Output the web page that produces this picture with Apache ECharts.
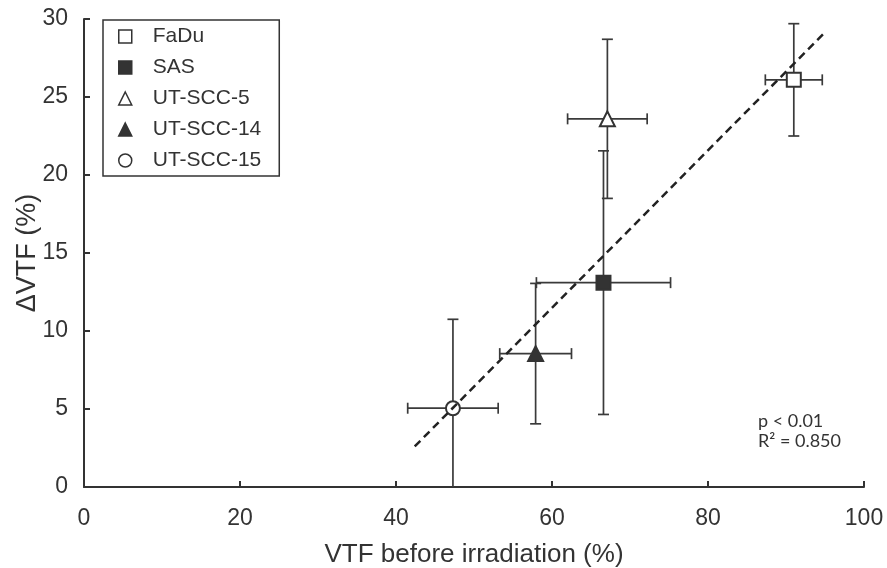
<!DOCTYPE html>
<html>
<head>
<meta charset="utf-8">
<script src="https://cdn.jsdelivr.net/npm/echarts/dist/echarts.min.js"></script>
<style>
html, body { margin: 0; padding: 0; background: #fff; }
#chart { width: 887px; height: 568px; }
</style>
</head>
<body>
<div id="chart"></div>
<script>
// cell lines and their values
var cellLines = ['FaDu', 'SAS', 'UT-SCC-5', 'UT-SCC-14', 'UT-SCC-15'];
var vtfBefore = [91.0, 66.6, 67.1, 57.9, 47.3];
var vtfBeforeErr = [3.65, 8.6, 5.1, 4.6, 5.8];
var deltaVtf = [26.1, 13.1, 23.6, 8.55, 5.05];
var deltaVtfErr = [3.6, 8.45, 5.1, 4.5, 5.7];
// regression line ends
var fitLine = [[42.4, 2.6], [95.1, 29.2]];
var xRange = [0, 100, 20];
var yRange = [0, 30, 5];
var statText = ['p < 0.01', 'R\u00b2 = 0.850'];

var ink = '#333';
var symbols = ['rect', 'rect', 'triangle', 'triangle', 'circle'];
var fills = ['#fff', ink, '#fff', ink, '#fff'];
var font = 'Liberation Sans';

var myChart = echarts.init(document.getElementById('chart'));

var errData = cellLines.map(function (n, i) {
	return [vtfBefore[i], deltaVtf[i], vtfBeforeErr[i], deltaVtfErr[i]];
});

// error bars with caps
function renderErr(params, api) {
	var x = api.value(0), y = api.value(1), ex = api.value(2), ey = api.value(3);
	var l = api.coord([x - ex, y]), r = api.coord([x + ex, y]);
	var t = api.coord([x, y + ey]), b = api.coord([x, y - ey]);
	var cap = 5.5;
	var st = { stroke: '#3a3a3a', lineWidth: 1.7 };
	function ln(x1, y1, x2, y2) {
		return { type: 'line', shape: { x1: x1, y1: y1, x2: x2, y2: y2 }, style: st };
	}
	return {
		type: 'group',
		children: [
			ln(l[0], l[1], r[0], r[1]),
			ln(t[0], t[1], b[0], b[1]),
			ln(l[0], l[1] - cap, l[0], l[1] + cap),
			ln(r[0], r[1] - cap, r[0], r[1] + cap),
			ln(t[0] - cap, t[1], t[0] + cap, t[1]),
			ln(b[0] - cap, b[1], b[0] + cap, b[1])
		]
	};
}

var series = [{
	type: 'custom',
	renderItem: renderErr,
	clip: true,
	encode: { x: 0, y: 1 },
	data: errData,
	z: 2,
	silent: true
}];

cellLines.forEach(function (name, i) {
	series.push({
		name: name,
		type: 'scatter',
		symbol: symbols[i],
		symbolSize: symbols[i] == 'triangle' ? 15 : 14,
		itemStyle: { color: fills[i], borderColor: ink, borderWidth: 2, opacity: 1 },
		data: [[vtfBefore[i], deltaVtf[i]]],
		z: 5
	});
});

series.push({
	type: 'line',
	data: fitLine,
	symbol: 'none',
	lineStyle: { color: '#222', width: 2.5, type: [8, 5] },
	z: 10,
	silent: true
});

var option = {
	animation: false,
	grid: { left: 84, right: 23, top: 19, bottom: 81, outerBoundsMode: 'none' },
	legend: {
		data: cellLines,
		orient: 'vertical',
		left: 103,
		top: 20,
		padding: [6, 18, 5, 15],
		itemGap: 10,
		itemWidth: 13,
		itemHeight: 13,
		borderColor: ink,
		borderWidth: 1.5,
		itemStyle: { borderWidth: 1.5 },
		textStyle: { fontSize: 21, color: ink, fontFamily: font, padding: [0, 0, 0, 16] }
	},
	xAxis: {
		type: 'value',
		min: xRange[0], max: xRange[1], interval: xRange[2],
		name: 'VTF before irradiation (%)',
		nameLocation: 'middle',
		nameGap: 55,
		nameMoveOverlap: false,
		nameTextStyle: { fontSize: 26, color: ink, fontFamily: font },
		axisLine: { lineStyle: { color: ink, width: 2 } },
		axisTick: { inside: true, length: 6, lineStyle: { color: ink, width: 2 } },
		axisLabel: { fontSize: 23, color: ink, margin: 20, fontFamily: font },
		splitLine: { show: false }
	},
	yAxis: {
		type: 'value',
		min: yRange[0], max: yRange[1], interval: yRange[2],
		name: '\u0394VTF (%)',
		nameLocation: 'middle',
		nameGap: 43,
		nameMoveOverlap: false,
		nameTextStyle: { fontSize: 27, color: ink, fontFamily: font },
		axisLine: { show: true, lineStyle: { color: ink, width: 2 } },
		axisTick: { show: true, inside: true, length: 6, lineStyle: { color: ink, width: 2 } },
		axisLabel: { fontSize: 23, color: ink, margin: 16, fontFamily: font },
		splitLine: { show: false }
	},
	graphic: [
		{ type: 'text', left: 758, top: 412, style: { text: statText[0], font: '18px Lato', fill: ink } },
		{ type: 'text', left: 758, top: 432, style: { text: statText[1], font: '18px Lato', fill: ink } }
	],
	series: series
};
myChart.setOption(option);
</script>
</body>
</html>
